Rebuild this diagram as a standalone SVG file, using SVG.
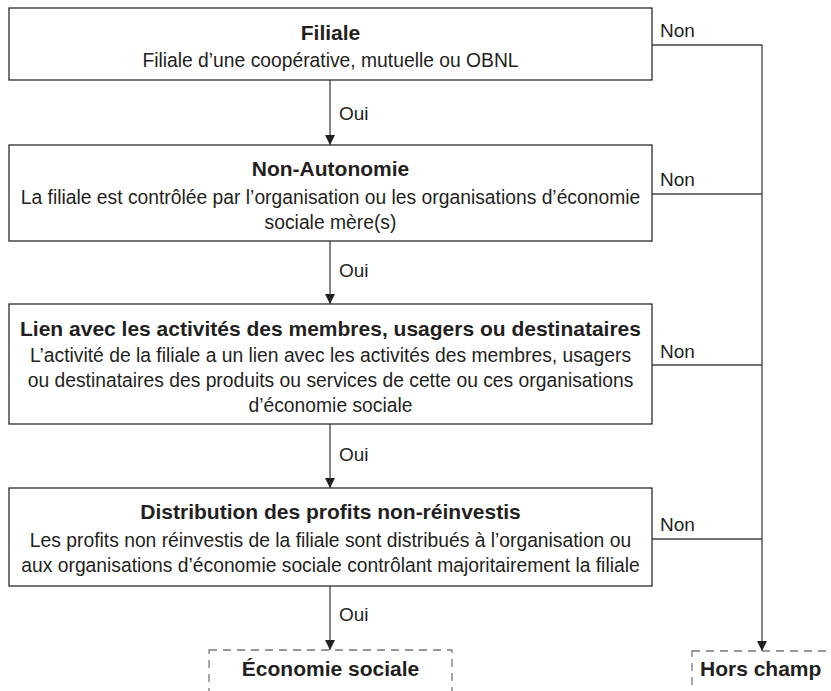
<svg xmlns="http://www.w3.org/2000/svg" width="831" height="691" viewBox="0 0 831 691">
<style>
.box{fill:#fff;stroke:#2b2b2b;stroke-width:1.3}
.dbox{fill:#fff;stroke:#777;stroke-width:1.3;stroke-dasharray:8 6}
.t{font-family:"Liberation Sans",Arial,sans-serif;font-size:21px;font-weight:bold;fill:#231f20;text-anchor:middle}
.b{font-family:"Liberation Sans",Arial,sans-serif;font-size:19.3px;fill:#231f20;text-anchor:middle}
.l{font-family:"Liberation Sans",Arial,sans-serif;font-size:19px;fill:#231f20}
.c{fill:none;stroke:#444;stroke-width:1.3}
</style>
<defs>
<marker id="ah" viewBox="0 0 10 10" refX="10" refY="5" markerWidth="10" markerHeight="10" markerUnits="userSpaceOnUse" orient="auto">
<path d="M0,0 L10,5 L0,10 z" fill="#231f20"/>
</marker>
</defs>
<g id="connectors">
<line class="c" x1="330" y1="80" x2="330" y2="145" marker-end="url(#ah)"/>
<line class="c" x1="330" y1="241" x2="330" y2="304" marker-end="url(#ah)"/>
<line class="c" x1="330" y1="424" x2="330" y2="488" marker-end="url(#ah)"/>
<line class="c" x1="330" y1="586" x2="330" y2="650" marker-end="url(#ah)"/>
<polyline class="c" points="652,45 762,45 762,651" marker-end="url(#ah)"/>
<line class="c" x1="652" y1="194" x2="762" y2="194"/>
<line class="c" x1="652" y1="365" x2="762" y2="365"/>
<line class="c" x1="652" y1="539" x2="762" y2="539"/>
<text class="l" x="339" y="120">Oui</text>
<text class="l" x="339" y="277">Oui</text>
<text class="l" x="339" y="461">Oui</text>
<text class="l" x="339" y="621">Oui</text>
<text class="l" x="660" y="37">Non</text>
<text class="l" x="660" y="186">Non</text>
<text class="l" x="660" y="358">Non</text>
<text class="l" x="660" y="531">Non</text>
</g>
<g id="filiale">
<rect class="box" x="9" y="8" width="643" height="72"/>
<text class="t" x="330.5" y="40">Filiale</text>
<text class="b" x="330.5" y="67">Filiale d’une coopérative, mutuelle ou OBNL</text>
</g>
<g id="non-autonomie">
<rect class="box" x="9" y="145" width="643" height="96"/>
<text class="t" x="330.5" y="176">Non-Autonomie</text>
<text class="b" x="330.5" y="204">La filiale est contrôlée par l’organisation ou les organisations d’économie</text>
<text class="b" x="330.5" y="229">sociale mère(s)</text>
</g>
<g id="lien">
<rect class="box" x="9" y="304" width="643" height="120"/>
<text class="t" x="330.5" y="336">Lien avec les activités des membres, usagers ou destinataires</text>
<text class="b" x="330.5" y="362">L’activité de la filiale a un lien avec les activités des membres, usagers</text>
<text class="b" x="330.5" y="387">ou destinataires des produits ou services de cette ou ces organisations</text>
<text class="b" x="330.5" y="412">d’économie sociale</text>
</g>
<g id="distribution">
<rect class="box" x="9" y="488" width="643" height="98"/>
<text class="t" x="330.5" y="519">Distribution des profits non-réinvestis</text>
<text class="b" x="330.5" y="547">Les profits non réinvestis de la filiale sont distribués à l’organisation ou</text>
<text class="b" x="330.5" y="572">aux organisations d’économie sociale contrôlant majoritairement la filiale</text>
</g>
<g id="economie-sociale">
<rect class="dbox" x="209" y="650" width="243" height="60"/>
<text class="t" x="330.5" y="676">Économie sociale</text>
</g>
<g id="hors-champ">
<rect class="dbox" x="692" y="651" width="160" height="60"/>
<text class="t" x="700" y="676" style="text-anchor:start">Hors champ</text>
</g>
</svg>
